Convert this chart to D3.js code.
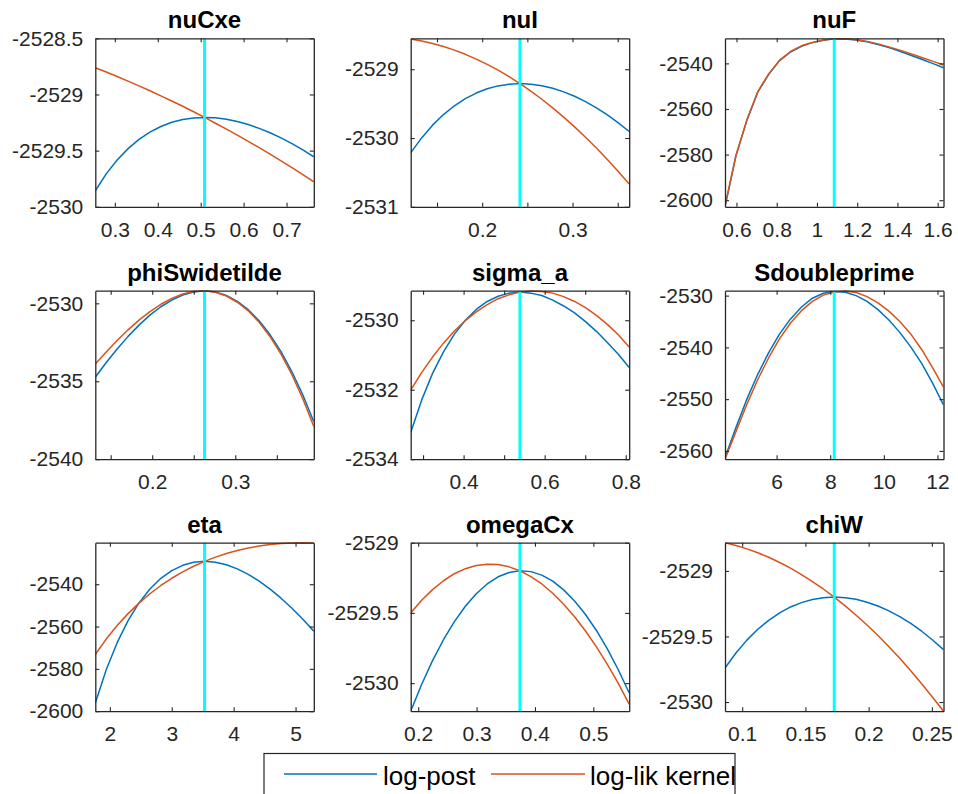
<!DOCTYPE html>
<html>
<head>
<meta charset="utf-8">
<script src="https://cdn.jsdelivr.net/npm/d3@7"></script>
<style>
  body { margin: 0; background: #fff; }
  svg { display: block; font-family: "Liberation Sans", Arial, Helvetica, sans-serif; }
</style>
</head>
<body>
<svg id="fig" width="958" height="794"></svg>
<script>
// Parameter names, one subplot each
const paramNames = ["nuCxe", "nuI", "nuF", "phiSwidetilde", "sigma_a", "Sdoubleprime", "eta", "omegaCx", "chiW"];

// Posterior mode of each parameter (cyan line); each slice runs from 0.5x to 1.5x the mode
const modes = [0.509, 0.2418, 1.086, 0.263, 0.539, 8.15, 3.53, 0.3743, 0.1728];
const gridSteps = [0.5, 0.55, 0.6, 0.65, 0.7, 0.75, 0.8, 0.85, 0.9, 0.95, 1.0,
                   1.05, 1.1, 1.15, 1.2, 1.25, 1.3, 1.35, 1.4, 1.45, 1.5];

// log-post and log-lik kernel along each slice
const postNuCxe = [-2529.857,-2529.707,-2529.583,-2529.482,-2529.400,-2529.335,-2529.285,-2529.248,-2529.223,-2529.209,-2529.204,-2529.208,-2529.221,-2529.241,-2529.268,-2529.302,-2529.341,-2529.387,-2529.438,-2529.494,-2529.555];
const likNuCxe  = [-2528.762,-2528.800,-2528.840,-2528.881,-2528.923,-2528.967,-2529.012,-2529.058,-2529.105,-2529.154,-2529.204,-2529.256,-2529.308,-2529.362,-2529.418,-2529.474,-2529.532,-2529.591,-2529.652,-2529.714,-2529.777];

const postNuI = [-2530.216,-2529.998,-2529.813,-2529.659,-2529.531,-2529.427,-2529.346,-2529.284,-2529.242,-2529.217,-2529.209,-2529.217,-2529.240,-2529.277,-2529.329,-2529.393,-2529.471,-2529.561,-2529.664,-2529.779,-2529.905];
const likNuI  = [-2528.560,-2528.589,-2528.625,-2528.670,-2528.722,-2528.783,-2528.852,-2528.929,-2529.014,-2529.108,-2529.209,-2529.319,-2529.436,-2529.562,-2529.696,-2529.838,-2529.988,-2530.146,-2530.312,-2530.487,-2530.669];

const postNuF = [-2602.9,-2580.6,-2565.0,-2552.6,-2544.8,-2538.8,-2535.0,-2532.5,-2530.9,-2529.9,-2529.2,-2529.3,-2529.7,-2530.5,-2531.7,-2533.1,-2534.7,-2536.4,-2538.2,-2540.0,-2541.9];
const likNuF  = [-2602.6,-2580.4,-2564.8,-2552.4,-2544.6,-2538.6,-2534.8,-2532.3,-2530.8,-2529.8,-2529.2,-2529.25,-2529.6,-2530.35,-2531.45,-2532.75,-2534.2,-2535.75,-2537.4,-2539.0,-2540.7];

const postPhiS = [-2534.74,-2533.80,-2532.93,-2532.12,-2531.40,-2530.76,-2530.22,-2529.79,-2529.47,-2529.27,-2529.2,-2529.27,-2529.49,-2529.87,-2530.41,-2531.12,-2532.02,-2533.10,-2534.39,-2535.88,-2537.59];
const likPhiS  = [-2533.89,-2533.12,-2532.39,-2531.70,-2531.08,-2530.53,-2530.06,-2529.68,-2529.40,-2529.24,-2529.2,-2529.29,-2529.53,-2529.93,-2530.48,-2531.22,-2532.14,-2533.26,-2534.58,-2536.13,-2537.90];

const postSigmaA = [-2533.23,-2532.30,-2531.53,-2530.91,-2530.40,-2530.00,-2529.69,-2529.46,-2529.31,-2529.22,-2529.19,-2529.22,-2529.29,-2529.42,-2529.59,-2529.79,-2530.04,-2530.32,-2530.64,-2530.98,-2531.36];
const likSigmaA  = [-2532.01,-2531.51,-2531.06,-2530.66,-2530.31,-2530.01,-2529.76,-2529.55,-2529.38,-2529.27,-2529.19,-2529.16,-2529.17,-2529.22,-2529.32,-2529.46,-2529.64,-2529.86,-2530.12,-2530.42,-2530.77];

const postSdp = [-2561.3,-2555.5,-2550.0,-2545.2,-2541.0,-2537.4,-2534.5,-2532.2,-2530.5,-2529.55,-2529.2,-2529.35,-2530.0,-2531.1,-2532.7,-2534.7,-2537.1,-2539.9,-2543.1,-2546.9,-2551.1];
const likSdp  = [-2561.6,-2556.3,-2551.0,-2546.2,-2542.0,-2538.3,-2535.3,-2532.9,-2531.1,-2529.9,-2529.3,-2529.1,-2529.4,-2530.2,-2531.4,-2533.0,-2535.0,-2537.4,-2540.4,-2543.9,-2547.7];

const postEta = [-2596.1,-2580.42,-2567.62,-2557.23,-2548.87,-2542.29,-2537.22,-2533.55,-2531.08,-2529.66,-2529.2,-2529.62,-2530.84,-2532.76,-2535.37,-2538.58,-2542.31,-2546.61,-2551.36,-2556.56,-2562.2];
const likEta  = [-2573.2,-2565.92,-2559.53,-2553.9,-2548.92,-2544.51,-2540.61,-2537.19,-2534.16,-2531.51,-2529.2,-2527.2,-2525.51,-2524.08,-2522.91,-2521.98,-2521.27,-2520.78,-2520.49,-2520.39,-2520.49];

const postOmega = [-2530.200,-2530.010,-2529.840,-2529.691,-2529.562,-2529.453,-2529.364,-2529.294,-2529.243,-2529.212,-2529.200,-2529.206,-2529.231,-2529.274,-2529.336,-2529.415,-2529.511,-2529.625,-2529.756,-2529.905,-2530.070];
const likOmega  = [-2529.500,-2529.410,-2529.334,-2529.271,-2529.221,-2529.185,-2529.162,-2529.153,-2529.156,-2529.172,-2529.200,-2529.241,-2529.294,-2529.360,-2529.438,-2529.527,-2529.629,-2529.742,-2529.866,-2530.002,-2530.150];

const postChiW = [-2529.741,-2529.626,-2529.528,-2529.445,-2529.377,-2529.320,-2529.275,-2529.242,-2529.218,-2529.205,-2529.2,-2529.204,-2529.217,-2529.239,-2529.268,-2529.305,-2529.349,-2529.401,-2529.460,-2529.527,-2529.600];
const likChiW  = [-2528.785,-2528.806,-2528.832,-2528.862,-2528.896,-2528.936,-2528.979,-2529.028,-2529.081,-2529.138,-2529.2,-2529.267,-2529.338,-2529.413,-2529.493,-2529.578,-2529.667,-2529.761,-2529.860,-2529.963,-2530.07];

const postSeries = [postNuCxe, postNuI, postNuF, postPhiS, postSigmaA, postSdp, postEta, postOmega, postChiW];
const likSeries  = [likNuCxe, likNuI, likNuF, likPhiS, likSigmaA, likSdp, likEta, likOmega, likChiW];

// Axis limits and ticks
const yLimits = [[-2530, -2528.5], [-2531, -2528.55], [-2602.9, -2529.0],
                 [-2540, -2529.19], [-2534, -2529.15], [-2561.6, -2529.05],
                 [-2600, -2520.39], [-2530.2, -2529.0], [-2530.07, -2528.785]];
const yTickValues = [[-2530, -2529.5, -2529, -2528.5], [-2531, -2530, -2529], [-2600, -2580, -2560, -2540],
                     [-2540, -2535, -2530], [-2534, -2532, -2530], [-2560, -2550, -2540, -2530],
                     [-2600, -2580, -2560, -2540], [-2530, -2529.5, -2529], [-2530, -2529.5, -2529]];
const xTickValues = [[0.3, 0.4, 0.5, 0.6, 0.7], [0.15, 0.2, 0.25, 0.3, 0.35], [0.6, 0.8, 1, 1.2, 1.4, 1.6],
                     [0.15, 0.2, 0.25, 0.3, 0.35], [0.3, 0.4, 0.5, 0.6, 0.7, 0.8], [6, 8, 10, 12],
                     [2, 3, 4, 5], [0.2, 0.3, 0.4, 0.5], [0.1, 0.15, 0.2, 0.25]];
const xTickLabels = [["0.3", "0.4", "0.5", "0.6", "0.7"], ["", "0.2", "", "0.3", ""], ["0.6", "0.8", "1", "1.2", "1.4", "1.6"],
                     ["", "0.2", "", "0.3", ""], ["", "0.4", "", "0.6", "", "0.8"], ["6", "8", "10", "12"],
                     ["2", "3", "4", "5"], ["0.2", "0.3", "0.4", "0.5"], ["0.1", "0.15", "0.2", "0.25"]];

const seriesNames = ["log-post", "log-lik kernel"];
const seriesColors = ["#0072BD", "#D95319"];
const modeColor = "#00FFFF";
const axisColor = "#262626";

// Subplot grid geometry
const colLeft = [95.3, 410.7, 725];
const rowTop = [38.3, 290.7, 542.7];
const axW = 218.5, axH = 168.5;
const tickFont = 21;

const svg = d3.select("#fig");
svg.append("rect").attr("width", 958).attr("height", 794).attr("fill", "#fff");

function styleAxis(sel) {
  sel.attr("font-family", null).attr("font-size", null);
  sel.select(".domain").attr("stroke", axisColor).attr("stroke-width", 1.3);
  sel.selectAll(".tick line").attr("stroke", axisColor).attr("stroke-width", 1.1);
  sel.selectAll(".tick text").attr("fill", axisColor).attr("font-size", tickFont);
}

paramNames.forEach((name, i) => {
  const col = i % 3, row = Math.floor(i / 3);
  const mode = modes[i];
  const x = d3.scaleLinear().domain([mode * gridSteps[0], mode * gridSteps[gridSteps.length - 1]]).range([0, axW]);
  const y = d3.scaleLinear().domain(yLimits[i]).range([axH, 0]);

  const g = svg.append("g").attr("transform", `translate(${colLeft[col]},${rowTop[row]})`);

  const clipId = `clip-${i}`;
  g.append("clipPath").attr("id", clipId)
    .append("rect").attr("x", 0).attr("y", -1).attr("width", axW).attr("height", axH + 2);

  const line = d3.line()
    .x((d, j) => x(mode * gridSteps[j]))
    .y(d => y(d));

  const plot = g.append("g").attr("clip-path", `url(#${clipId})`);
  [postSeries[i], likSeries[i]].forEach((vals, s) => {
    plot.append("path")
      .datum(vals)
      .attr("d", line)
      .attr("fill", "none")
      .attr("stroke", seriesColors[s])
      .attr("stroke-width", 1.5)
      .attr("stroke-linejoin", "round");
  });

  // Mode marker
  plot.append("line")
    .attr("x1", x(mode)).attr("x2", x(mode))
    .attr("y1", 0).attr("y2", axH)
    .attr("stroke", modeColor).attr("stroke-width", 3);

  // Box with inward ticks on all four sides
  g.append("g").attr("transform", `translate(0,${axH})`)
    .call(d3.axisBottom(x).tickValues(xTickValues[i]).tickFormat((d, k) => xTickLabels[i][k])
      .tickSizeInner(-4).tickSizeOuter(0).tickPadding(15))
    .call(styleAxis);
  g.append("g")
    .call(d3.axisTop(x).tickValues(xTickValues[i]).tickFormat("")
      .tickSizeInner(-4).tickSizeOuter(0))
    .call(styleAxis);
  g.append("g")
    .call(d3.axisLeft(y).tickValues(yTickValues[i]).tickFormat(d => String(d))
      .tickSizeInner(-4).tickSizeOuter(0).tickPadding(12))
    .call(styleAxis);
  g.append("g").attr("transform", `translate(${axW},0)`)
    .call(d3.axisRight(y).tickValues(yTickValues[i]).tickFormat("")
      .tickSizeInner(-4).tickSizeOuter(0))
    .call(styleAxis);

  g.append("text")
    .attr("x", axW / 2).attr("y", -10)
    .attr("text-anchor", "middle")
    .attr("font-weight", "bold")
    .attr("font-size", 24)
    .attr("fill", "#000")
    .text(name);
});

// Legend
const legend = svg.append("g");
legend.append("rect")
  .attr("x", 264).attr("y", 753.5).attr("width", 471).attr("height", 60)
  .attr("fill", "#fff").attr("stroke", axisColor).attr("stroke-width", 1.2);
const legendItems = [{ x1: 284, x2: 377, tx: 383 }, { x1: 491, x2: 585, tx: 590 }];
seriesNames.forEach((label, s) => {
  const it = legendItems[s];
  legend.append("line")
    .attr("x1", it.x1).attr("x2", it.x2).attr("y1", 774).attr("y2", 774)
    .attr("stroke", seriesColors[s]).attr("stroke-width", 1.5);
  legend.append("text")
    .attr("x", it.tx).attr("y", 785)
    .attr("font-size", 26).attr("fill", "#000")
    .text(label);
});
</script>
</body>
</html>
